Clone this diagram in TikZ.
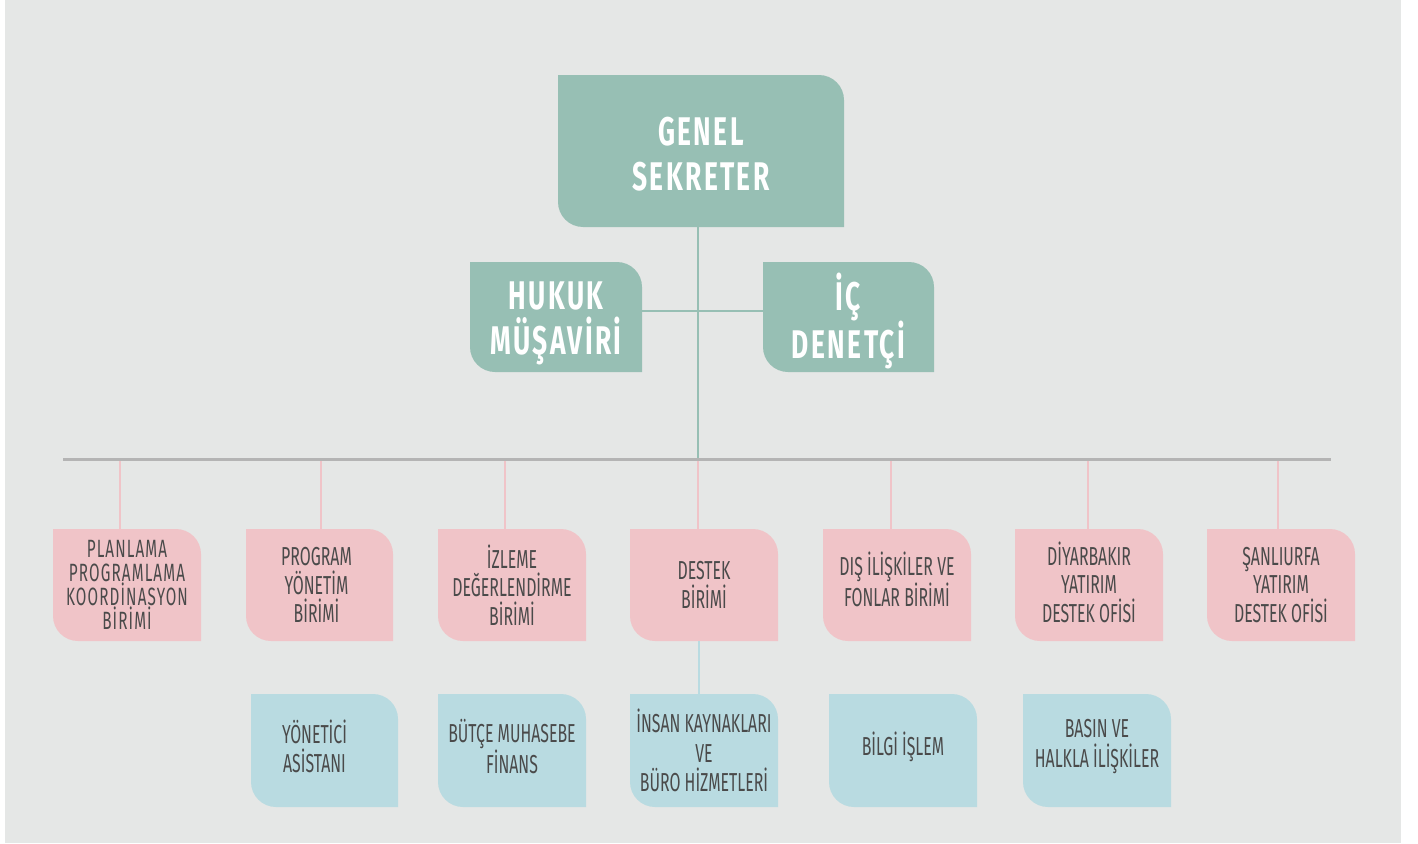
\documentclass[tikz,border=0pt]{standalone}
\usepackage{fontspec}
\newfontfamily\bodyfont[FakeStretch=0.61]{Fira Sans}
\newfontfamily\bodyfontsp[FakeStretch=0.61,LetterSpace=4.5]{Fira Sans}
\newfontfamily\headfont[FakeStretch=0.66,LetterSpace=6]{Fira Sans}
\definecolor{bg}{HTML}{E5E7E6}
\definecolor{teal}{HTML}{97BFB4}
\definecolor{pinkbox}{HTML}{F0C4C8}
\definecolor{bluebox}{HTML}{B9DBE1}
\definecolor{busgray}{HTML}{B4B4B4}
\definecolor{txt}{HTML}{4A4A4A}
\newcommand{\orgbox}[8]{% name, x1, y1, x2, y2, colour, text style, text
  \fill[#6] (#2,#3) -- ({#4-25},#3) arc[start angle=-90,end angle=0,radius=25]
    -- (#4,#5) -- ({#2+25},#5) arc[start angle=90,end angle=180,radius=25] -- cycle;
  \node[inner sep=0pt, minimum width={(#4-#2)*1pt}, minimum height={(#5-#3)*1pt}]
    (#1) at ({(#2+#4)/2},{(#3+#5)/2}) {};
  \node[inner sep=0pt, #7] (#1t) at (#1.center) {#8};
}
\tikzset{
  headtext/.style={font=\headfont\bfseries\fontsize{40}{45}\selectfont, text=white, align=center},
  bodytext/.style={font=\bodyfont\fontsize{26}{28.5}\selectfont, text=txt, align=center},
  bodytextsp/.style={font=\bodyfontsp\fontsize{25}{24}\selectfont, text=txt, align=center},
  bluetext/.style={font=\bodyfont\fontsize{26}{29.5}\selectfont, text=txt, align=center},
  tealline/.style={draw=teal, line width=1.5pt},
  pinkline/.style={draw=pinkbox, line width=2pt},
  blueline/.style={draw=bluebox, line width=2.5pt},
  busline/.style={draw=busgray, line width=3pt}
}
\begin{document}
\begin{tikzpicture}[x=1pt,y=-1pt]
\useasboundingbox (0,0) rectangle (1418,843);
\fill[white] (0,0) rectangle (1418,843);
\fill[bg] (5,0) rectangle (1401,843);

% top level
\orgbox{gs}{558}{75}{844}{227}{teal}{headtext, yshift=-3pt}{GENEL\\SEKRETER}
\orgbox{hukuk}{470}{262}{642}{372}{teal}{headtext, yshift=-6pt}{HUKUK\\MÜŞAVİRİ}
\orgbox{ic}{763}{262}{934}{372}{teal}{headtext, yshift=-4pt}{İÇ\\DENETÇİ}

% units
\orgbox{p1}{53}{529}{201}{641}{pinkbox}{bodytextsp}{PLANLAMA\\PROGRAMLAMA\\KOORDİNASYON\\BİRİMİ}
\orgbox{p2}{246}{529}{393}{641}{pinkbox}{bodytext, xshift=-3pt}{PROGRAM\\YÖNETİM\\BİRİMİ}
\orgbox{p3}{438}{529}{586}{641}{pinkbox}{bodytext}{İZLEME\\DEĞERLENDİRME\\BİRİMİ}
\orgbox{p4}{630}{529}{778}{641}{pinkbox}{bodytext}{DESTEK\\BİRİMİ}
\orgbox{p5}{823}{529}{971}{641}{pinkbox}{bodytext, yshift=6pt}{DIŞ İLİŞKİLER VE\\FONLAR BİRİMİ}
\orgbox{p6}{1015}{529}{1163}{641}{pinkbox}{bodytext, yshift=3pt}{DİYARBAKIR\\YATIRIM\\DESTEK OFİSİ}
\orgbox{p7}{1207}{529}{1355}{641}{pinkbox}{bodytext}{ŞANLIURFA\\YATIRIM\\DESTEK OFİSİ}

% sub units
\orgbox{b1}{251}{694}{398}{807}{bluebox}{bluetext, yshift=4pt, xshift=-10pt}{YÖNETİCİ\\ASİSTANI}
\orgbox{b2}{438}{694}{586}{807}{bluebox}{bluetext, yshift=4pt}{BÜTÇE MUHASEBE\\FİNANS}
\orgbox{b3}{630}{694}{778}{807}{bluebox}{bluetext}{İNSAN KAYNAKLARI\\VE\\BÜRO HİZMETLERİ}
\orgbox{b4}{829}{694}{977}{807}{bluebox}{bluetext, yshift=4pt}{BİLGİ İŞLEM}
\orgbox{b5}{1023}{694}{1171}{807}{bluebox}{bluetext, yshift=4pt}{BASIN VE\\HALKLA İLİŞKİLER}

% bus and drop points
\coordinate (busL) at (63,459);
\coordinate (busR) at (1331,459);
\coordinate (hub) at (698,459);
\coordinate (d1) at (120,459);
\coordinate (d2) at (321,459);
\coordinate (d3) at (505,459);
\coordinate (d4) at (698,459);
\coordinate (d5) at (891,459);
\coordinate (d6) at (1088,459);
\coordinate (d7) at (1278,459);

% connectors
\draw[tealline] (gs.south -| hub) -- (hub);
\draw[tealline] ([yshift=6pt]hukuk.east) -- ([yshift=6pt]ic.west);
\foreach \i in {1,...,7}{
  \draw[pinkline] (d\i) -- (p\i.north -| d\i);
}
\draw[busline] (busL) -- (busR);
\draw[blueline] ([xshift=-5pt]p4.south) -- ([xshift=-5pt]b3.north);
\end{tikzpicture}
\end{document}
